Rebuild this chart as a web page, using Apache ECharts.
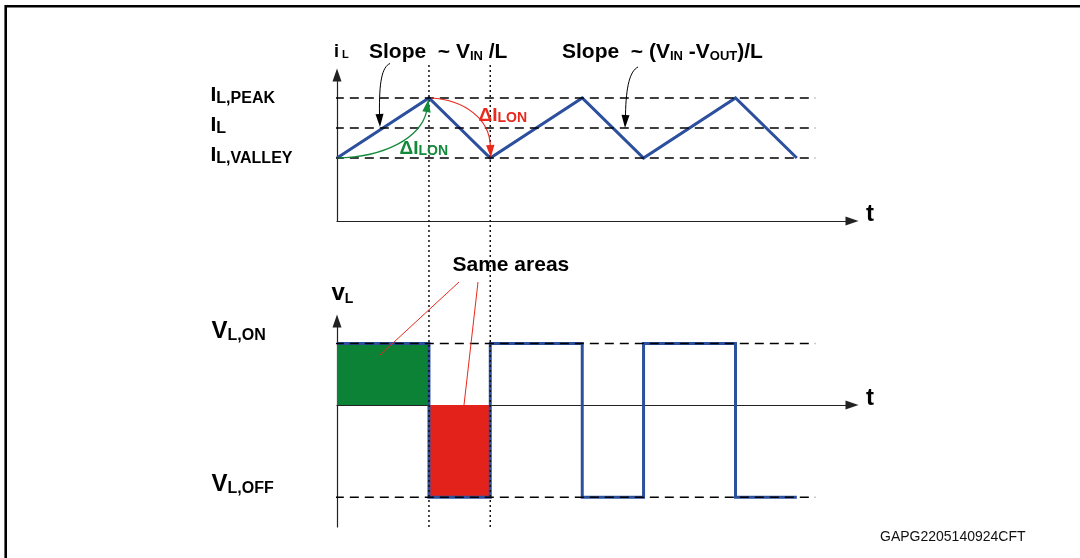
<!DOCTYPE html>
<html><head><meta charset="utf-8">
<script src="https://cdn.jsdelivr.net/npm/echarts@6/dist/echarts.min.js"></script>
<style>html,body{margin:0;padding:0;background:#fff}#c{width:1080px;height:558px}</style>
</head><body><div id="c"></div>
<script>
// time in arbitrary units: one switching period = 10, on-time = 6
const tPoints = [0, 6, 10, 16, 20, 26, 30];
const iLValues = [2.1, 4.1, 2.1, 4.1, 2.1, 4.1, 2.1];
const iLLevels = [4.1, 3.1, 2.1];            // I_L,PEAK, I_L, I_L,VALLEY
const vLEdges = [0, 6, 10, 16, 20, 26, 30];
const vLLevels = [6, -9, 6, -9, 6, -9];      // V_L,ON / V_L,OFF per interval
const vLOn = 6;
const vLOff = -9;
const switchTimes = [6, 10];
const refSpan = [-2.1, 31.2];
const areaRects = [[0, 6, 0, 6], [6, 10, -9, 0]]; // [t0, t1, v0, v1]

const BLUE = '#2c4f9e', GREEN = '#0b8235', RED = '#e3231b', AGREEN = '#13893a', ARED = '#e8291c';
const FONT = '"Liberation Sans", Arial, Helvetica, sans-serif';

const chart = echarts.init(document.getElementById('c'), null, {renderer: 'canvas'});

const axisLine = {show: true, onZero: true, symbol: ['none', 'triangle'], symbolSize: [9, 13],
  lineStyle: {color: '#222', width: 1.2}};
const hiddenBits = {axisTick: {show: false}, axisLabel: {show: false}, splitLine: {show: false}};

const wavePts = tPoints.map((t, i) => [t, iLValues[i]]);
const sqPts = [];
for (let i = 0; i < vLLevels.length; i++) {
  sqPts.push([vLEdges[i], vLLevels[i]], [vLEdges[i + 1], vLLevels[i]]);
}
const dash = {color: '#000', width: 1.5, type: [9, 6]};

const series = [];
iLLevels.forEach(v => series.push({type: 'line', xAxisIndex: 0, yAxisIndex: 0, clip: false, silent: true,
  symbol: 'none', z: 3, data: [[refSpan[0], v], [refSpan[1], v]], lineStyle: dash}));
series.push({type: 'line', xAxisIndex: 0, yAxisIndex: 0, symbol: 'none', z: 2, silent: true,
  data: wavePts, lineStyle: {color: BLUE, width: 3, join: 'miter'}});
series.push({type: 'custom', xAxisIndex: 1, yAxisIndex: 1, z: 1, silent: true, data: areaRects,
  renderItem: function (params, api) {
    const p0 = api.coord([api.value(0), api.value(2)]);
    const p1 = api.coord([api.value(1), api.value(3)]);
    return {type: 'rect', shape: {x: p0[0], y: p1[1], width: p1[0] - p0[0], height: p0[1] - p1[1]},
      style: {fill: params.dataIndex === 0 ? GREEN : RED}};
  }});
series.push({type: 'line', xAxisIndex: 1, yAxisIndex: 1, symbol: 'none', z: 2, silent: true,
  data: sqPts, lineStyle: {color: BLUE, width: 3, join: 'miter'}});
[vLOn, vLOff].forEach(v => series.push({type: 'line', xAxisIndex: 1, yAxisIndex: 1, clip: false, silent: true,
  symbol: 'none', z: 3, data: [[refSpan[0], v], [refSpan[1], v]], lineStyle: dash}));
switchTimes.forEach(t => series.push({type: 'line', xAxisIndex: 2, yAxisIndex: 2, symbol: 'none', z: 4, silent: true,
  data: [[t, 0], [t, 1]], lineStyle: {color: '#111', width: 1.5, type: [2, 3]}}));

chart.setOption({
  animation: false,
  backgroundColor: '#fff',
  grid: [
    {left: 337, top: 75, width: 515, height: 146, outerBoundsMode: 'none'},
    {left: 337, top: 321, width: 515, height: 206, outerBoundsMode: 'none'},
    {left: 337, top: 65, width: 515, height: 462, outerBoundsMode: 'none'}
  ],
  xAxis: [
    Object.assign({gridIndex: 0, type: 'value', min: 0, max: 33.6, axisLine}, hiddenBits),
    Object.assign({gridIndex: 1, type: 'value', min: 0, max: 33.6, axisLine}, hiddenBits),
    {gridIndex: 2, type: 'value', min: 0, max: 33.6, show: false}
  ],
  yAxis: [
    Object.assign({gridIndex: 0, type: 'value', min: 0, max: 4.867, axisLine}, hiddenBits),
    Object.assign({gridIndex: 1, type: 'value', min: -11.9, max: 8.2, axisLine}, hiddenBits),
    {gridIndex: 2, type: 'value', min: 0, max: 1, show: false}
  ],
  series: series
});

// ---------- annotations ----------
function px(idx, pt) { return chart.convertToPixel({xAxisIndex: idx, yAxisIndex: idx}, pt); }
function label(x, y, parts, color, weight) {
  const rich = {};
  let text = '';
  parts.forEach((p, i) => {
    rich['p' + i] = {fontFamily: FONT, fontSize: p[1], fontWeight: weight || 'bold', fill: color || '#000',
      lineHeight: p[1], verticalAlign: 'bottom'};
    text += '{p' + i + '|' + p[0] + '}';
  });
  return {type: 'text', x: x, y: y, z: 20, silent: true,
    style: {text: text, rich: rich, align: 'left', verticalAlign: 'bottom'}};
}
function arrow(p0, c1, c2, p1, tip, color, lw, hw) {
  const dx = tip[0] - p1[0], dy = tip[1] - p1[1];
  const L = Math.hypot(dx, dy), nx = -dy / L, ny = dx / L;
  return [
    {type: 'bezierCurve', z: 15, silent: true,
      shape: {x1: p0[0], y1: p0[1], cpx1: c1[0], cpy1: c1[1], cpx2: c2[0], cpy2: c2[1], x2: p1[0], y2: p1[1]},
      style: {stroke: color, lineWidth: lw, fill: 'none'}},
    {type: 'polygon', z: 15, silent: true,
      shape: {points: [[tip[0], tip[1]], [p1[0] + nx * hw, p1[1] + ny * hw], [p1[0] - nx * hw, p1[1] - ny * hw]]},
      style: {fill: color}}
  ];
}

const pStart = px(0, wavePts[0]);
const pPeak = px(0, wavePts[1]);
const pValley = px(0, wavePts[2]);

const g = [];
g.push({type: 'rect', z: 30, silent: true, shape: {x: 5.7, y: 6.3, width: 1200, height: 700},
  style: {fill: 'none', stroke: '#000', lineWidth: 2.6}});

g.push(label(334, 60.7, [['i', 18], [' L', 11]]));
g.push(label(369, 63.2, [['Slope  ~ V', 21], ['IN', 13], [' /L', 21]]));
g.push(label(562, 63.2, [['Slope  ~ (V', 21], ['IN', 13], [' -V', 21], ['OUT', 13], [')/L', 21]]));
g.push(label(210.5, 106.2, [['I', 21], ['L,PEAK', 16]]));
g.push(label(210.5, 136.2, [['I', 21], ['L', 16]]));
g.push(label(210.5, 166.2, [['I', 21], ['L,VALLEY', 16]]));
g.push(label(478.5, 125, [['\u0394I', 19], ['LON', 14]], ARED));
g.push(label(399.5, 158, [['\u0394I', 19], ['LON', 14]], AGREEN));
g.push(label(452.5, 276.2, [['Same areas', 21]]));
g.push(label(331.5, 305.7, [['v', 24], ['L', 14]]));
g.push(label(211.5, 343.7, [['V', 24], ['L,ON', 16]]));
g.push(label(211.5, 496.7, [['V', 24], ['L,OFF', 16]]));
g.push(label(866, 226.5, [['t', 24]]));
g.push(label(866, 410, [['t', 24]]));
g.push(label(880, 544, [['GAPG2205140924CFT', 14]], '#111', 'normal'));

g.push(...arrow([390, 63.5], [382, 67], [379, 82], [379.5, 114], [380, 127], '#000', 1, 4));
g.push(...arrow([638, 67], [630, 71], [626, 86], [625.5, 115], [625, 128], '#000', 1, 4));
g.push(...arrow([pStart[0], pStart[1]], [pStart[0] + 48, pStart[1] - 1], [pPeak[0] - 9, pPeak[1] + 40],
  [pPeak[0] - 2.5, pPeak[1] + 14], [pPeak[0] - 0.5, pPeak[1] + 1.5], AGREEN, 1.2, 4.2));
g.push(...arrow([pPeak[0] + 2, pPeak[1]], [pPeak[0] + 37, pPeak[1] + 2], [pValley[0] - 1, pValley[1] - 38],
  [pValley[0], pValley[1] - 13], [pValley[0] + 0.5, pValley[1] - 0.5], ARED, 1.2, 4.2));
g.push({type: 'line', z: 15, silent: true, shape: {x1: 459, y1: 282, x2: 380, y2: 355}, style: {stroke: ARED, lineWidth: 1}});
g.push({type: 'line', z: 15, silent: true, shape: {x1: 478, y1: 282, x2: 464, y2: 405}, style: {stroke: ARED, lineWidth: 1}});

chart.setOption({graphic: g});
</script></body></html>
